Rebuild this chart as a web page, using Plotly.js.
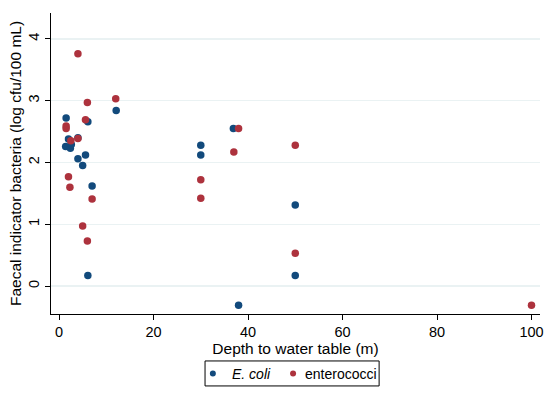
<!DOCTYPE html>
<html>
<head>
<meta charset="utf-8">
<script src="https://cdn.plot.ly/plotly-3.0.1.min.js"></script>
<style>html,body{margin:0;padding:0;background:#fff;}#chart{width:550px;height:393px;}</style>
</head>
<body>
<div id="chart"></div>
<script>
// E. coli: depth to water table (m) and log cfu/100 mL
const ecoliDepth = [1.5, 6.1, 2.0, 4.0, 1.4, 2.4, 2.6, 4.0, 5.6, 5.0, 7.0, 6.1, 12.1, 36.9, 30.0, 30.0, 50.0, 50.0, 38.0];
const ecoliLog   = [2.72, 2.66, 2.38, 2.40, 2.26, 2.23, 2.29, 2.06, 2.12, 1.95, 1.62, 0.17, 2.84, 2.55, 2.28, 2.12, 1.31, 0.17, -0.31];
// Enterococci
const enteroDepth = [4.0, 6.0, 12.0, 5.6, 1.5, 1.5, 2.5, 4.0, 2.0, 2.3, 7.0, 5.0, 6.0, 38.0, 37.0, 50.0, 30.0, 30.0, 50.0, 100.0];
const enteroLog   = [3.76, 2.97, 3.03, 2.69, 2.59, 2.55, 2.35, 2.39, 1.77, 1.60, 1.41, 0.97, 0.73, 2.55, 2.17, 2.28, 1.72, 1.42, 0.53, -0.31];
const seriesNames = ['<i>E. coli</i>', 'enterococci'];
const seriesColors = ['#124a7c', '#ad323d'];
const xTicks = [0, 20, 40, 60, 80, 100];
const yTicks = [0, 1, 2, 3, 4];

const fam = 'Liberation Sans, Arial, sans-serif';
const tickFont = {family: fam, size: 14.5, color: '#000'};
const titleFont = {family: fam, size: 15.5, color: '#000'};
const legFont = {family: fam, size: 14, color: '#000'};

const traces = [
  {x: ecoliDepth, y: ecoliLog, name: seriesNames[0], type: 'scatter', mode: 'markers',
   marker: {color: seriesColors[0], size: 7.5}},
  {x: enteroDepth, y: enteroLog, name: seriesNames[1], type: 'scatter', mode: 'markers',
   marker: {color: seriesColors[1], size: 7.5}}
];

// Legend drawn as a framed key below the plot (paper coordinates)
const legMarkX = [0.331, 0.495];
const legTextX = [0.366, 0.516];
const legY = -0.198;
const shapes = [
  {type: 'rect', xref: 'paper', yref: 'paper', x0: 0.315, x1: 0.671, y0: -0.239, y1: -0.156,
   line: {color: '#000', width: 1}, fillcolor: 'rgba(0,0,0,0)'}
];
const annotations = [];
seriesNames.forEach((n, i) => {
  shapes.push({type: 'circle', xref: 'paper', yref: 'paper', xsizemode: 'pixel', ysizemode: 'pixel',
    xanchor: legMarkX[i], yanchor: legY, x0: -3, x1: 3, y0: -3, y1: 3,
    fillcolor: seriesColors[i], line: {width: 0}});
  annotations.push({xref: 'paper', yref: 'paper', x: legTextX[i], y: legY, xanchor: 'left', yanchor: 'middle',
    text: n, showarrow: false, font: legFont});
});

const layout = {
  width: 550, height: 393,
  margin: {l: 51, r: 10, t: 13, b: 79},
  paper_bgcolor: '#fff', plot_bgcolor: '#fff',
  font: tickFont,
  showlegend: false,
  shapes: shapes,
  annotations: annotations,
  xaxis: {
    range: [-1.7, 101.8], tickvals: xTicks, ticktext: xTicks.map(String),
    showgrid: false, zeroline: false, showline: true, linecolor: '#000', linewidth: 1,
    ticks: 'outside', ticklen: 5, tickcolor: '#000', tickfont: tickFont,
    title: {text: 'Depth to water table (m)', font: titleFont, standoff: 0}
  },
  yaxis: {
    range: [-0.453, 4.42], tickvals: yTicks, ticktext: yTicks.map(String), tickangle: -90,
    showgrid: true, gridcolor: '#eaf2f3', gridwidth: 1.2, zeroline: false,
    showline: true, linecolor: '#000', linewidth: 1,
    ticks: 'outside', ticklen: 5, tickcolor: '#000', tickfont: tickFont,
    title: {text: 'Faecal indicator bacteria (log cfu/100 mL)', font: titleFont, standoff: 0}
  }
};

Plotly.newPlot('chart', traces, layout, {displayModeBar: false, staticPlot: true});
</script>
</body>
</html>
